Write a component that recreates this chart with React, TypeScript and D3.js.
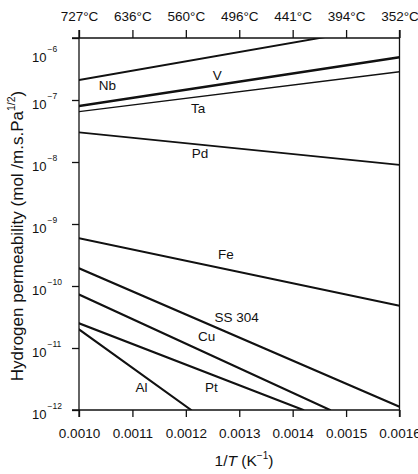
import { useEffect, useRef } from 'react'
import * as d3 from 'd3'

// reciprocal temperature ticks (1/K) and matching Celsius labels on top
const X_TICKS = [0.001, 0.0011, 0.0012, 0.0013, 0.0014, 0.0015, 0.0016]
const TEMP_LABELS = ['727°C', '636°C', '560°C', '496°C', '441°C', '394°C', '352°C']
const Y_EXPONENTS = [-12, -11, -10, -9, -8, -7, -6]

// permeability lines: [1/T, mol/(m.s.Pa^1/2)]
const NB = [[0.001, 2.1e-7], [0.0016, 1.68e-6]]
const V = [[0.001, 8.0e-8], [0.0016, 4.9e-7]]
const TA = [[0.001, 6.5e-8], [0.0016, 2.86e-7]]
const PD = [[0.001, 3.0e-8], [0.0016, 9.0e-9]]
const FE = [[0.001, 5.9e-10], [0.0016, 4.8e-11]]
const SS304 = [[0.001, 1.93e-10], [0.0016, 1.13e-12]]
const CU = [[0.001, 7.3e-11], [0.00147, 1.0e-12]]
const PT = [[0.001, 2.5e-11], [0.00142, 1.0e-12]]
const AL = [[0.001, 2.0e-11], [0.00121, 1.0e-12]]

const SERIES = [
  { name: 'Nb', data: NB, width: 1.9 },
  { name: 'V', data: V, width: 2.4 },
  { name: 'Ta', data: TA, width: 1.4 },
  { name: 'Pd', data: PD, width: 1.7 },
  { name: 'Fe', data: FE, width: 1.9 },
  { name: 'SS 304', data: SS304, width: 2.1 },
  { name: 'Cu', data: CU, width: 2.1 },
  { name: 'Pt', data: PT, width: 2.1 },
  { name: 'Al', data: AL, width: 2.1 },
]

// where each material name sits (centre x, baseline y) in data units
const LABELS = [
  { text: 'Nb', x: 0.001053, y: 1.45e-7 },
  { text: 'V', x: 0.001259, y: 2.1e-7 },
  { text: 'Ta', x: 0.001223, y: 6.1e-8 },
  { text: 'Pd', x: 0.0012265, y: 1.18e-8 },
  { text: 'Fe', x: 0.001275, y: 2.7e-10 },
  { text: 'SS 304', x: 0.001295, y: 2.65e-11 },
  { text: 'Cu', x: 0.001239, y: 1.3e-11 },
  { text: 'Pt', x: 0.001248, y: 1.97e-12 },
  { text: 'Al', x: 0.001117, y: 1.97e-12 },
]

const W = 418
const H = 474
const FONT = '"Liberation Sans", Arial, Helvetica, sans-serif'
const INK = '#111'

export default function App() {
  const svgRef = useRef<SVGSVGElement>(null)

  useEffect(() => {
    if (!svgRef.current) return
    const svg = d3.select(svgRef.current)
    svg.selectAll('*').remove()

    const x = d3.scaleLinear().domain([0.001, 0.0016]).range([79, 399.5])
    const y = d3.scaleLog().domain([1e-12, 1e-6]).range([410, 38])
    const [x0, x1] = x.range()
    const [yb, yt] = y.range()

    svg.append('defs').append('clipPath').attr('id', 'plot-clip')
      .append('rect')
      .attr('x', x0).attr('y', yt).attr('width', x1 - x0).attr('height', yb - yt)

    const styleAxis = (ax: any) => {
      ax.select('.domain').remove()
      ax.selectAll('line').attr('stroke', INK).attr('stroke-width', 1.3)
      ax.selectAll('text').attr('fill', INK).attr('font-size', 13.5).attr('font-family', FONT)
    }

    // top axis: temperature in Celsius
    svg.append('g')
      .attr('transform', `translate(0,${yt})`)
      .call(d3.axisTop(x).tickValues(X_TICKS).tickSize(8).tickPadding(9.5)
        .tickFormat((_d, i) => TEMP_LABELS[i]))
      .call(styleAxis)

    // bottom axis: 1/T
    svg.append('g')
      .attr('transform', `translate(0,${yb})`)
      .call(d3.axisBottom(x).tickValues(X_TICKS).tickSize(7).tickPadding(11.5)
        .tickFormat(d3.format('.4f')))
      .call(styleAxis)

    // left axis: decades with superscript exponents
    const yAxis = svg.append('g')
      .attr('transform', `translate(${x0},0)`)
      .call(d3.axisLeft(y).tickValues(Y_EXPONENTS.map(e => Math.pow(10, e)))
        .tickSize(7).tickFormat(() => ''))
      .call(styleAxis)
    yAxis.selectAll('.tick text').remove()

    const yLabels = svg.append('g').attr('font-family', FONT).attr('fill', INK)
    Y_EXPONENTS.forEach(e => {
      // the top decade label is pushed down clear of the temperature axis
      const shift = e === -6 ? 24 : 9
      const t = yLabels.append('text')
        .attr('x', x0 - 47)
        .attr('y', y(Math.pow(10, e)) + shift)
        .attr('font-size', 13)
      t.append('tspan').text('10')
      t.append('tspan').attr('font-size', 8.5).attr('dy', -10).attr('dx', 1)
        .text(`\u2212${-e}`)
    })

    // frame
    const frame = svg.append('g').attr('stroke', INK).attr('stroke-width', 1.3).attr('fill', 'none')
    frame.append('line').attr('x1', x0 - 7).attr('x2', x1).attr('y1', yt).attr('y2', yt)
    frame.append('line').attr('x1', x0 - 7).attr('x2', x1).attr('y1', yb).attr('y2', yb)
    frame.append('line').attr('x1', x0).attr('x2', x0).attr('y1', yt - 8).attr('y2', yb + 7)
    frame.append('line').attr('x1', x1).attr('x2', x1).attr('y1', yt - 8).attr('y2', yb + 7)

    // permeability lines
    const line = d3.line<number[]>().x(d => x(d[0])).y(d => y(d[1]))
    const lines = svg.append('g').attr('clip-path', 'url(#plot-clip)')
    SERIES.forEach(s => {
      lines.append('path')
        .attr('d', line(s.data))
        .attr('fill', 'none')
        .attr('stroke', INK)
        .attr('stroke-width', s.width)
        .attr('stroke-linecap', 'round')
    })

    // material names
    svg.append('g').attr('font-family', FONT).attr('font-size', 13.5).attr('fill', INK)
      .attr('text-anchor', 'middle')
      .selectAll('text')
      .data(LABELS)
      .join('text')
      .attr('x', d => x(d.x))
      .attr('y', d => y(d.y))
      .text(d => d.text)

    // axis titles
    const xt = svg.append('text')
      .attr('x', 244).attr('y', 466)
      .attr('text-anchor', 'middle')
      .attr('font-family', FONT).attr('font-size', 15.5).attr('fill', INK)
    xt.append('tspan').text('1/')
    xt.append('tspan').attr('font-style', 'italic').text('T')
    xt.append('tspan').text(' (K')
    xt.append('tspan').attr('font-size', 10).attr('dy', -7).text('\u22121')
    xt.append('tspan').attr('dy', 7).text(')')

    const yt2 = svg.append('text')
      .attr('transform', `translate(23,${(yt + yb) / 2 + 12}) rotate(-90)`)
      .attr('text-anchor', 'middle')
      .attr('font-family', FONT).attr('font-size', 17).attr('fill', INK)
    yt2.append('tspan').text('Hydrogen permeability (mol /m.s.Pa')
    yt2.append('tspan').attr('font-size', 10.5).attr('dy', -8).text('1/2')
    yt2.append('tspan').attr('dy', 8).text(')')
  }, [])

  return (
    <div style={{ position: 'absolute', left: 0, top: 0 }}>
      <svg ref={svgRef} width={W} height={H} style={{ display: 'block', background: '#fff' }} />
    </div>
  )
}
